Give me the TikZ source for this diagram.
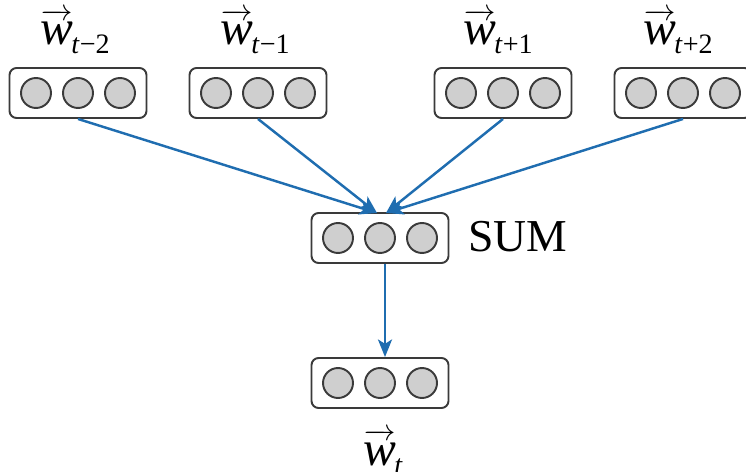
\documentclass[tikz,border=0pt]{standalone}
\usepackage{fontspec}
\setmainfont{Liberation Serif}
\usepackage{tikz}
\usetikzlibrary{calc,arrows.meta}
\definecolor{linkblue}{HTML}{1F6DB0}
\definecolor{unitgray}{HTML}{CFCFCF}
\definecolor{edgegray}{HTML}{3A3A3A}
\newcommand{\wlabel}[1]{\mbox{\fontsize{19}{22}\selectfont$\overrightarrow{\mbox{\fontsize{28}{32}\selectfont\itshape w\rule{0pt}{15pt}}}$}\kern-1pt\raisebox{-0.18cm}{\fontsize{16}{20}\selectfont #1}}

\begin{document}
\begin{tikzpicture}[x=0.02cm,y=-0.02cm,
  vecbox/.style={draw=edgegray,line width=1.1pt,rounded corners=4pt,minimum width=2.74cm,minimum height=1cm,inner sep=0pt},
  unit/.style={circle,draw=edgegray,fill=unitgray,line width=1.1pt,minimum size=0.6cm,inner sep=0pt},
  link/.style={linkblue,line width=1.4pt,-{Stealth[length=10pt,width=8pt,inset=2.5pt]}},
  lbl/.style={font=\fontsize{28}{32}\selectfont,inner sep=0pt}]
\path[use as bounding box] (0,0) rectangle (746,472);
\clip (0,0) rectangle (746,472);
% context vectors and the two lower ones
\foreach \b/\cx/\cy in {b1/78/93,b2/258/93,b3/503/93,b4/683/93,sum/380/238,out/380/383}{
  \node[vecbox] (\b) at (\cx,\cy) {};
  \foreach \i/\d in {1/-42,2/0,3/42}{\node[unit] (\b-\i) at (\cx+\d,\cy) {};}
}
\node[lbl,anchor=base west] (l1) at (40,45) {\wlabel{\textit{t}−2}};
\node[lbl,anchor=base west] (l2) at (220,45) {\wlabel{\textit{t}−1}};
\node[lbl,anchor=base west] (l3) at (463,45) {\wlabel{\textit{t}+1}};
\node[lbl,anchor=base west] (l4) at (643,45) {\wlabel{\textit{t}+2}};
\node[font=\fontsize{26}{30}\selectfont,inner sep=0pt,anchor=base west] (sumlbl) at (468,252) {SUM};
\node[lbl,anchor=base west] (lt) at (363,465) {\wlabel{\textit{t}}};
% arrows into SUM
\coordinate (inL) at (377,213);
\coordinate (inR) at (386,213);
\draw[link] (b1.south) -- (inL);
\draw[link] (b2.south) -- (inL);
\draw[link] (b3.south) -- (inR);
\draw[link] (b4.south) -- (inR);
\draw[link] ([xshift=0.1cm]sum.south) -- ([xshift=0.1cm]out.north);
\end{tikzpicture}
\end{document}
